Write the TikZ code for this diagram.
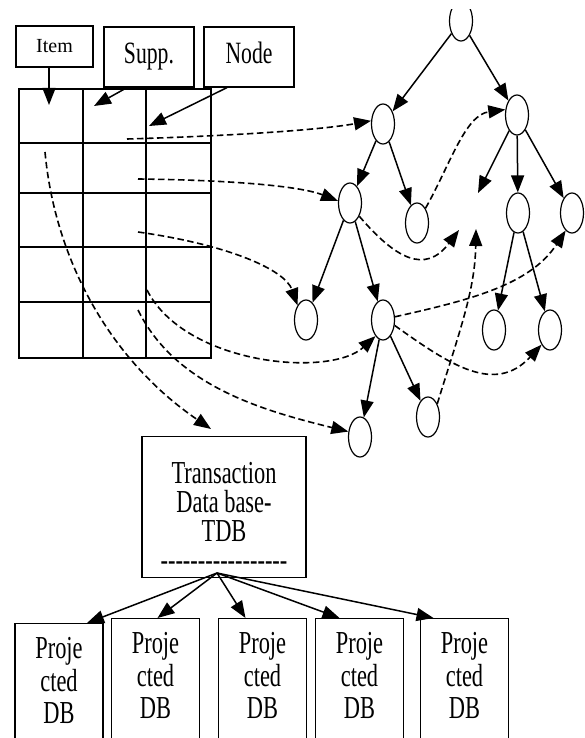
\documentclass[tikz,border=0pt]{standalone}
\usepackage{fontspec}
\setmainfont{Liberation Serif}
\newfontfamily\tallserif[FakeStretch=0.70,Ligatures=TeXOff]{Liberation Serif}
\usetikzlibrary{arrows.meta,shapes.geometric}

\begin{document}
\begin{tikzpicture}[x=1pt,y=-1pt,line width=1.2pt,
  tip/.style={-{Triangle[length=17pt,width=13pt]}},
  dlink/.style={tip,dash pattern=on 6.5pt off 3.5pt,line width=1.6pt},
  vtx/.style={draw,ellipse,minimum width=23pt,minimum height=40pt,inner sep=0pt},
  head/.style={draw,minimum width=90pt,minimum height=60pt,inner sep=0pt,text height=20pt,text depth=6pt,font=\tallserif\fontsize{31}{31}\selectfont},
  proj/.style={draw,anchor=north,minimum width=88pt,inner sep=0pt,align=center,text height=100pt,text depth=60pt,font=\tallserif\fontsize{32}{32.5}\selectfont}]
\useasboundingbox (0,0) rectangle (584,738);
\clip (0,10) rectangle (584,738);

% header boxes and the table
\node[draw,minimum width=77pt,minimum height=41pt,inner sep=0pt,font=\fontsize{20}{20}\selectfont] (item) at (54.5,46.5) {Item};
\node[head] (supp) at (149,57) {Supp.};
\node[head] (nodecol) at (249,57) {Node};
\draw (19,89) rectangle (211,358);
\foreach \x in {83,146} \draw (\x,89) -- (\x,358);
\foreach \y in {143,193,247,302} \draw (19,\y) -- (211,\y);
\coordinate (itemcell) at (49,105);
\coordinate (suppcell) at (94,106);
\coordinate (nodecell) at (149,126);
\draw[tip,line width=1.5pt] (item.south -| itemcell) -- (itemcell);
\draw[tip,line width=1.5pt] ([xshift=-22pt]supp.south) -- (suppcell);
\draw[tip,line width=1.5pt] ([xshift=-22pt]nodecol.south) -- (nodecell);

% tree
\foreach \n/\x/\y in {r/461/21,a/383/124,b/517/115,c/350/203,d/417/223,f/518/213,g/572/213,
  h/306/320,e/383/320,k/360/437,m/428/417,p/494/330,q/550/330}
  \node[vtx] (\n) at (\x,\y) {};
\coordinate (bx) at (478,193);
\foreach \s/\t in {r/a,r/b,a/c,a/d,b/bx,b/f,b/g,c/h,c/e,e/k,e/m,f/p,f/q}
  \draw[tip,line width=1.5pt] (\s) -- (\t);

% links from the table into the tree
\coordinate (s1) at (127,139);
\coordinate (s2) at (138,179);
\coordinate (s3) at (138,232);
\coordinate (s4) at (147,290);
\coordinate (s5) at (138,310);
\coordinate (s6) at (45,152);
\coordinate (tdbin) at (211,429);
\coordinate (t1) at (459,230);
\coordinate (t2) at (476,229);
\draw[dlink] (s1) .. controls (230,136) and (320,130) .. (a.165);
\draw[dlink] (s2) .. controls (230,180) and (300,186) .. (c.170);
\draw[dlink] (s3) .. controls (230,245) and (285,270) .. (h.120);
\draw[dlink] (s4) .. controls (185,365) and (330,378) .. (e.245);
\draw[dlink] (s5) .. controls (175,385) and (260,410) .. (k.155);
\draw[dlink] (s6) .. controls (55,260) and (110,360) .. (tdbin);
\draw[dlink] (d.60) .. controls (450,165) and (465,115) .. (b.155);
\draw[dlink] (c.305) .. controls (395,258) and (425,275) .. (t1);
\draw[dlink] (m.55) .. controls (460,330) and (475,290) .. (t2);
\draw[dlink] (e.15) .. controls (470,300) and (530,285) .. (g.250);
\draw[dlink] (e.335) .. controls (450,365) and (495,395) .. (q.240);

% transaction DB and the projected DBs
\node[draw,anchor=north,minimum width=164pt,inner sep=0pt,align=center,text height=134pt,text depth=7pt,
  font=\tallserif\fontsize{32}{29}\selectfont] (tdb) at (224,436) {Transaction\\Data base-\\TDB\\-----------------};
\foreach \i/\x/\y in {1/59/623,2/155.5/618,3/262.5/618,4/359.5/618,5/464.5/618}
  \node[proj] (p\i) at (\x,\y) {Proje\\cted\\DB};
\coordinate (fan) at (217,573);
\foreach \i/\dx in {1/28,2/2,3/-17,4/-20,5/-31}
  \draw[tip,line width=1.5pt] (fan) -- ([xshift=\dx pt]p\i.north);
\end{tikzpicture}
\end{document}
